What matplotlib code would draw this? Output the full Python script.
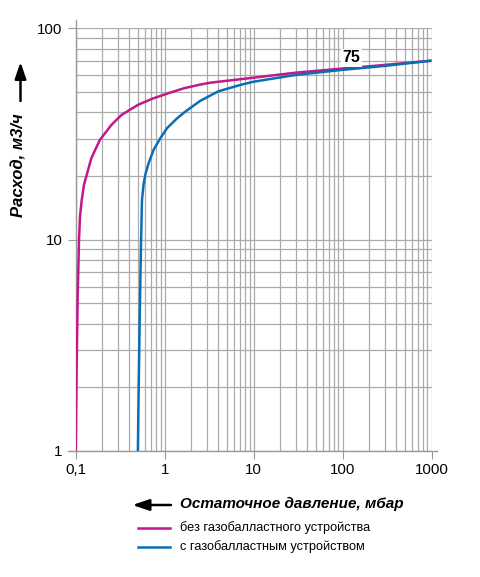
import matplotlib
matplotlib.use('Agg')
import matplotlib.pyplot as plt
from matplotlib.patches import FancyArrowPatch

plt.rcParams['font.family'] = ['Liberation Sans', 'DejaVu Sans']

# pressure (mbar) vs flow (m3/h)
p_no_gb = [0.1, 0.1026, 0.1053, 0.109, 0.1118, 0.1169, 0.124, 0.150, 0.1866, 0.252, 0.327,
           0.5, 0.713, 1.1, 1.638, 2.53, 3.28, 10, 30, 100, 300, 1000]
q_no_gb = [1, 2.6, 5.4, 10, 12.9, 15.4, 18.2, 24.3, 29.6, 34.9, 38.9,
           43.4, 46.3, 49.3, 52, 54.2, 55.3, 58.4, 61.7, 64.5, 67.1, 70.3]

p_gb = [0.5, 0.509, 0.523, 0.541, 0.556, 0.579, 0.606, 0.66, 0.751, 0.894, 1.064,
        1.38, 1.713, 2.5, 4, 7.15, 10, 30, 100, 300, 1000]
q_gb = [1, 1.8, 4, 9, 15.4, 18.2, 20.3, 23, 26.6, 30.2, 33.7,
        37.5, 40.4, 45.3, 50.3, 54.0, 55.9, 60.2, 63.6, 66.4, 70.3]

x_ticks = [0.1, 1, 10, 100, 1000]
x_labels = ['0,1', '1', '10', '100', '1000']
y_ticks = [1, 10, 100]
y_labels = ['1', '10', '100']

label_no_gb = 'без газобалластного устройства'
label_gb = 'с газобалластным устройством'
col_no_gb = '#C2188A'
col_gb = '#0A6EB4'
grid_col = '#ABABAB'

fig = plt.figure(figsize=(4.8, 5.77), dpi=100)
W, H = 480, 577
ax = fig.add_axes([75.7 / W, 1 - 451 / H, (431.5 - 75.7) / W, (451 - 28.3) / H])
ax.set_xscale('log')
ax.set_yscale('log')
ax.set_xlim(0.1, 1000)
ax.set_ylim(1, 100)

ax.grid(which='both', color=grid_col, lw=0.9)
ax.set_axisbelow(True)
for s in ax.spines.values():
    s.set_visible(False)

# axis lines a bit longer than the grid
ax.plot([0, 0], [0, 1.02], transform=ax.transAxes, color='#999999', lw=1.0, clip_on=False, zorder=1.5)
ax.plot([-8 / 356, 1 + 6 / 356], [0, 0], transform=ax.transAxes, color='#999999', lw=1.0,
        clip_on=False, zorder=1.5)

ax.plot(p_no_gb, q_no_gb, color=col_no_gb, lw=1.8, solid_capstyle='butt', zorder=3)
ax.plot(p_gb, q_gb, color=col_gb, lw=1.8, solid_capstyle='butt', zorder=3)

ax.set_xticks(x_ticks)
ax.set_xticklabels(x_labels)
ax.set_yticks(y_ticks)
ax.set_yticklabels(y_labels)
ax.tick_params(which='major', length=5.5, width=0.8, color='#999999', labelsize=10.8, pad=3)
ax.tick_params(which='minor', length=0)
ax.tick_params(axis='y', pad=4)

ax.text(125, 72.5, '75', fontsize=11.5, fontweight='bold', ha='center', va='center', zorder=4,
        bbox=dict(facecolor='white', edgecolor='none', pad=1))

arrow_style = '-|>,head_length=0.5,head_width=0.17'

# y label with arrow
fig.text(19 / W, 1 - 165 / H, 'Расход, м3/ч', rotation=90, ha='center', va='center',
         fontsize=12, fontweight='bold', fontstyle='italic')
fig.add_artist(FancyArrowPatch((20.5 / W, 1 - 101 / H), (20.5 / W, 1 - 62 / H),
                               transform=fig.transFigure, arrowstyle=arrow_style,
                               mutation_scale=20, color='black', lw=1.8, shrinkA=0, shrinkB=0))

# x label with arrow
fig.text(292 / W, 1 - 504 / H, 'Остаточное давление, мбар', ha='center', va='center',
         fontsize=11, fontweight='bold', fontstyle='italic')
fig.add_artist(FancyArrowPatch((171 / W, 1 - 505 / H), (132.5 / W, 1 - 505 / H),
                               transform=fig.transFigure, arrowstyle=arrow_style,
                               mutation_scale=20, color='black', lw=1.8, shrinkA=0, shrinkB=0))

# legend
for yy, col, lab in [(528, col_no_gb, label_no_gb), (546.5, col_gb, label_gb)]:
    fig.add_artist(plt.Line2D([138 / W, 170 / W], [1 - yy / H, 1 - yy / H], color=col, lw=1.8,
                              transform=fig.transFigure))
    fig.text(180 / W, 1 - yy / H, lab, ha='left', va='center', fontsize=9.2)

fig.savefig('out.png', dpi=100)
